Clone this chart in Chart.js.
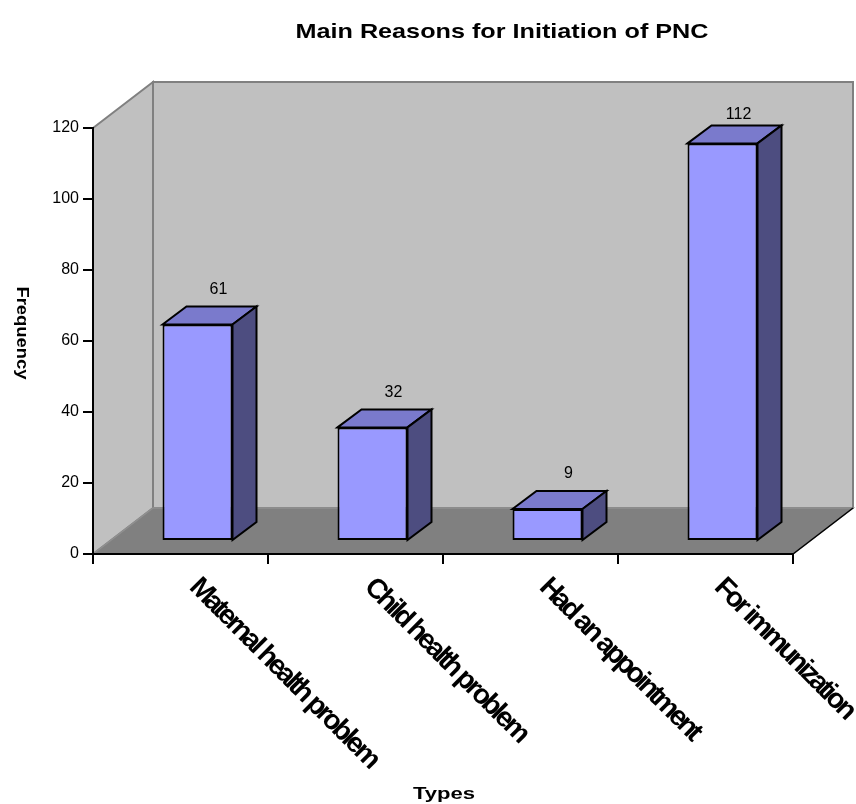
<!DOCTYPE html>
<html>
<head>
<meta charset="utf-8">
<script src="https://cdn.jsdelivr.net/npm/chart.js@4.4.1/dist/chart.umd.min.js"></script>
<style>
  body { margin: 0; background: #fff; }
  #wrap { width: 856px; height: 804px; }
</style>
</head>
<body>
<div id="wrap"><canvas id="myChart"></canvas></div>
<script>
const categories = ['Maternal health problem', 'Child health problem', 'Had an appointment', 'For immunization'];
const frequencies = [61, 32, 9, 112];
const yMin = 0;
const yMax = 120;
const yStep = 20;

const chartTitle = 'Main Reasons for Initiation of PNC';
const yTitle = 'Frequency';
const xTitle = 'Types';

const FONT = '"Liberation Sans", Arial, sans-serif';

// depth of the 3d box (walls) and of the bars
const wallDx = 60, wallDy = -46;
const barShiftX = 17, barShiftY = -13;
const barDx = 24, barDy = -18;

function poly(ctx, pts, fill, stroke, lw) {
    ctx.beginPath();
    ctx.moveTo(pts[0][0], pts[0][1]);
    for (let i = 1; i < pts.length; i++) ctx.lineTo(pts[i][0], pts[i][1]);
    ctx.closePath();
    if (fill) { ctx.fillStyle = fill; ctx.fill(); }
    if (stroke) { ctx.strokeStyle = stroke; ctx.lineWidth = lw || 1; ctx.lineJoin = 'miter'; ctx.stroke(); }
}

// text stretched along its own direction (the original export is wider than the font)
function wideText(ctx, text, x, y, sx, angle) {
    ctx.save();
    ctx.translate(x, y);
    if (angle) ctx.rotate(angle);
    ctx.scale(sx, 1);
    ctx.fillText(text, 0, 0);
    ctx.restore();
}

const box3d = {
    id: 'box3d',
    beforeDraw(chart) {
        const ctx = chart.ctx;
        const a = chart.chartArea;
        ctx.save();
        // back wall
        poly(ctx, [[a.left + wallDx, a.top + wallDy], [a.right + wallDx, a.top + wallDy],
            [a.right + wallDx, a.bottom + wallDy], [a.left + wallDx, a.bottom + wallDy]], '#c0c0c0', '#808080', 2);
        // left side wall
        poly(ctx, [[a.left, a.top], [a.left + wallDx, a.top + wallDy],
            [a.left + wallDx, a.bottom + wallDy], [a.left, a.bottom]], '#c0c0c0', '#808080', 2);
        // floor
        poly(ctx, [[a.left, a.bottom], [a.left + wallDx, a.bottom + wallDy],
            [a.right + wallDx, a.bottom + wallDy], [a.right, a.bottom]], '#808080', '#909090', 1.5);
        ctx.beginPath();
        ctx.moveTo(a.right, a.bottom);
        ctx.lineTo(a.right + wallDx, a.bottom + wallDy);
        ctx.strokeStyle = '#000';
        ctx.lineWidth = 1.5;
        ctx.stroke();
        ctx.restore();
    },
    beforeDatasetsDraw(chart) {
        chart.ctx.save();
        chart.ctx.translate(barShiftX, barShiftY);
    },
    afterDatasetsDraw(chart) {
        const ctx = chart.ctx;
        const a = chart.chartArea;
        const meta = chart.getDatasetMeta(0);
        meta.data.forEach((bar, i) => {
            const p = bar.getProps(['x', 'y', 'base', 'width'], true);
            const l = p.x - p.width / 2, r = p.x + p.width / 2;
            // top face
            poly(ctx, [[l, p.y], [l + barDx, p.y + barDy], [r + barDx, p.y + barDy], [r, p.y]], '#7a7acc', '#000', 2);
            // side face
            poly(ctx, [[r, p.y], [r + barDx, p.y + barDy], [r + barDx, p.base + barDy], [r, p.base]], '#4d4d80', '#000', 2);
            // value label
            let ly = p.y + barDy - 17;
            let lx = p.x + 21;
            if (ly < a.top) {
                lx -= (a.top - ly) * 0.75;
                ly = a.top;
            }
            ctx.fillStyle = '#000';
            ctx.font = '16px ' + FONT;
            ctx.textAlign = 'center';
            ctx.textBaseline = 'middle';
            ctx.fillText(String(frequencies[i]), lx, ly);
        });
        ctx.restore();
    },
    afterDraw(chart) {
        const ctx = chart.ctx;
        const xs = chart.scales.x;
        ctx.save();
        ctx.fillStyle = '#000';
        // category labels, rotated 45 degrees, squeezed
        ctx.font = 'bold 28px ' + FONT;
        ctx.letterSpacing = '-3px';
        ctx.textAlign = 'left';
        ctx.textBaseline = 'top';
        categories.forEach((c, i) => {
            wideText(ctx, c, xs.getPixelForValue(i) + 23, chart.chartArea.bottom + 19, 1, Math.PI / 4);
        });
        ctx.letterSpacing = '0px';
        // titles
        ctx.textAlign = 'center';
        ctx.textBaseline = 'middle';
        ctx.font = 'bold 21px ' + FONT;
        wideText(ctx, chartTitle, 502, 32, 1.2);
        ctx.font = 'bold 17px ' + FONT;
        wideText(ctx, xTitle, 444, 794, 1.3);
        ctx.font = 'bold 16px ' + FONT;
        wideText(ctx, yTitle, 21, 333, 1.15, Math.PI / 2);
        ctx.restore();
    }
};

const canvas = document.getElementById('myChart');
const chart = new Chart(canvas, {
    type: 'bar',
    data: {
        labels: categories,
        datasets: [{
            data: frequencies,
            backgroundColor: '#9999ff',
            borderColor: '#000',
            borderWidth: 2,
            borderSkipped: false,
            categoryPercentage: 1,
            barPercentage: 0.4,
            clip: false
        }]
    },
    options: {
        responsive: true,
        maintainAspectRatio: false,
        animation: false,
        devicePixelRatio: 1,
        layout: { padding: { left: 0, right: 63, top: 128, bottom: 0 } },
        plugins: {
            legend: { display: false },
            tooltip: { enabled: false },
            title: { display: false }
        },
        scales: {
            x: {
                offset: true,
                ticks: { display: false },
                grid: { drawOnChartArea: false, offset: true, tickLength: 10, color: '#000', lineWidth: 2 },
                border: { display: true, color: '#000', width: 2 },
                afterFit(scale) { scale.height = 250; }
            },
            y: {
                min: yMin,
                max: yMax,
                ticks: { stepSize: yStep, color: '#000', font: { family: FONT, size: 16 }, padding: 4 },
                grid: { drawOnChartArea: false, tickLength: 10, color: '#000', lineWidth: 2 },
                border: { display: true, color: '#000', width: 2 },
                afterFit(scale) { scale.width = 93; }
            }
        }
    },
    plugins: [box3d]
});
</script>
</body>
</html>
